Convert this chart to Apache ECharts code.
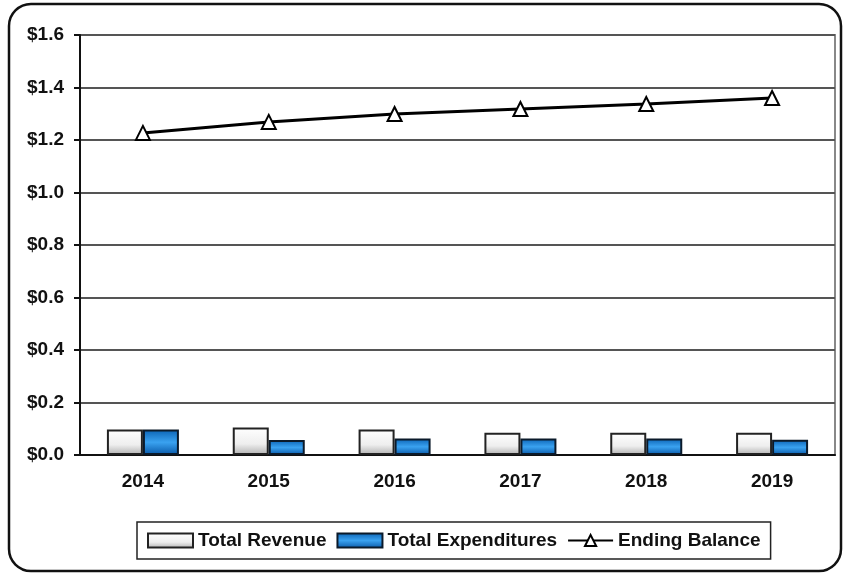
<!DOCTYPE html>
<html>
	<head>
		<meta charset="utf-8">
		<title>Revenue, Expenditures and Ending Balance</title>
		<script src="https://cdn.jsdelivr.net/npm/echarts@6/dist/echarts.min.js"></script>
		<style>
			html, body { margin: 0; padding: 0; background: #fff; }
		</style>
	</head>
	<body>
		<div id="main" style="width: 843px;height:573px;"></div>

		<script type="text/javascript">
			// data (billions)
			var years = ['2014', '2015', '2016', '2017', '2018', '2019'];
			var totalRevenue = [0.097, 0.105, 0.097, 0.085, 0.085, 0.085];
			var totalExpenditures = [0.097, 0.057, 0.063, 0.063, 0.063, 0.058];
			var endingBalance = [1.227, 1.269, 1.299, 1.318, 1.337, 1.36];

			var font = 'Liberation Sans, Arial, sans-serif';

			var myChart = echarts.init(document.getElementById('main'));

			var revColor = new echarts.graphic.LinearGradient(0, 0, 0, 1, [
				{offset: 0, color: '#ffffff'},
				{offset: 0.6, color: '#eeeeee'},
				{offset: 1, color: '#b0b0b0'}
			]);
			var expColor = new echarts.graphic.LinearGradient(0, 0, 0, 1, [
				{offset: 0, color: '#0a62b4'},
				{offset: 0.5, color: '#3aa2f0'},
				{offset: 1, color: '#0858a8'}
			]);

			var option = {
				animation: false,
				textStyle: { fontFamily: font },
				graphic: [{
					type: 'rect',
					shape: { x: 9, y: 4, width: 832, height: 567, r: 22 },
					style: { fill: 'none', stroke: '#111', lineWidth: 2.5 },
					silent: true,
					z: 100
				}],
				grid: {
					left: 80, right: 8, top: 35, bottom: 118,
					show: true, borderColor: '#888', borderWidth: 2
				},
				legend: {
					left: 137, top: 522,
					padding: [9, 10, 9, 10],
					borderColor: '#222', borderWidth: 1.5,
					itemWidth: 45, itemHeight: 14, itemGap: 10,
					textStyle: { fontSize: 19, fontWeight: 'bold', color: '#111', fontFamily: font },
					data: [
						{name: 'Total Revenue', icon: 'rect'},
						{name: 'Total Expenditures', icon: 'rect'},
						{name: 'Ending Balance'}
					]
				},
				xAxis: {
					type: 'category',
					data: years,
					axisLine: { lineStyle: { color: '#111', width: 2 } },
					axisTick: { length: 8, lineStyle: { color: '#111', width: 2 } },
					axisLabel: { margin: 17, fontSize: 19, fontWeight: 'bold', color: '#111', fontFamily: font }
				},
				yAxis: {
					type: 'value',
					min: 0, max: 1.6, interval: 0.2,
					axisLine: { show: true, lineStyle: { color: '#111', width: 2 } },
					axisTick: { show: true, length: 6, lineStyle: { color: '#111', width: 2 } },
					axisLabel: {
						margin: 16, fontSize: 19, fontWeight: 'bold', color: '#111', fontFamily: font,
						formatter: function(v){ return '$' + v.toFixed(1); }
					},
					splitLine: { lineStyle: { color: '#555', width: 2 } }
				},
				series: [
					{
						name: 'Total Revenue',
						type: 'bar',
						barWidth: 36,
						barGap: '0%',
						data: totalRevenue,
						itemStyle: { color: revColor, borderColor: '#222', borderWidth: 2 }
					},
					{
						name: 'Total Expenditures',
						type: 'bar',
						barWidth: 36,
						data: totalExpenditures,
						itemStyle: { color: expColor, borderColor: '#0b1a2a', borderWidth: 2 }
					},
					{
						name: 'Ending Balance',
						type: 'line',
						data: endingBalance,
						symbol: 'triangle',
						symbolSize: 14,
						lineStyle: { color: '#000', width: 3 },
						itemStyle: { color: '#fff', borderColor: '#000', borderWidth: 2 },
						z: 5
					}
				]
			};

			myChart.setOption(option);
		</script>
	</body>
</html>
